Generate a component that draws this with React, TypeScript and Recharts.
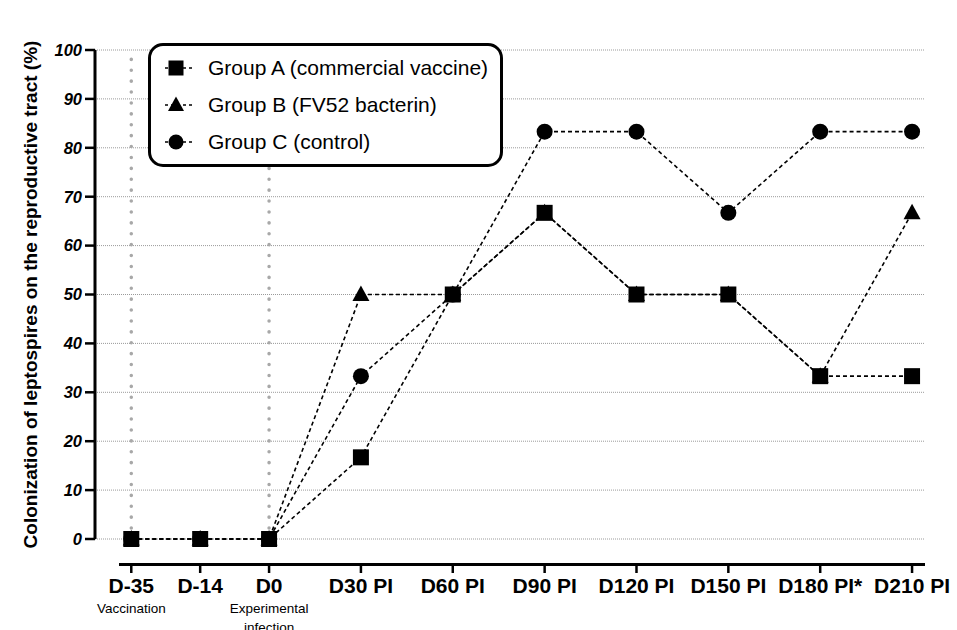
import React from 'react';
import { LineChart, Line, XAxis, YAxis, CartesianGrid, ReferenceLine, Legend } from 'recharts';

const FONT = '"Liberation Sans", Arial, Helvetica, sans-serif';

const timepoints = ['D-35', 'D-14', 'D0', 'D30 PI', 'D60 PI', 'D90 PI', 'D120 PI', 'D150 PI', 'D180 PI*', 'D210 PI'];
const timeSlots = [-1.5, -0.75, 0, 1, 2, 3, 4, 5, 6, 7];
const tickNotes: string[][] = [['Vaccination'], [], ['Experimental', 'infection'], [], [], [], [], [], [], []];
const groupA = [0, 0, 0, 16.7, 50, 66.7, 50, 50, 33.3, 33.3];
const groupB = [0, 0, 0, 50, 50, 66.7, 50, 50, 33.3, 66.7];
const groupC = [0, 0, 0, 33.3, 50, 83.3, 83.3, 66.7, 83.3, 83.3];
const yTicks = [0, 10, 20, 30, 40, 50, 60, 70, 80, 90, 100];
const eventSlots = [-1.5, 0];
const seriesNames = ['Group A (commercial vaccine)', 'Group B (FV52 bacterin)', 'Group C (control)'];
const seriesShapes = ['square', 'triangle', 'circle'];

const data = timeSlots.map((slot, i) => ({
  slot,
  label: timepoints[i],
  a: groupA[i],
  b: groupB[i],
  c: groupC[i],
}));

const Marker = ({ shape, cx, cy, size }: { shape: string; cx: number; cy: number; size: number }) => {
  const h = size / 2;
  if (shape === 'square') return <rect x={cx - h} y={cy - h} width={size} height={size} fill="#000" />;
  if (shape === 'circle') return <circle cx={cx} cy={cy} r={h} fill="#000" />;
  return (
    <polygon
      points={`${cx},${cy - h - 1} ${cx + h + 0.5},${cy + h - 1.5} ${cx - h - 0.5},${cy + h - 1.5}`}
      fill="#000"
    />
  );
};

const makeDot = (shape: string) => (props: any) => {
  const { cx, cy, index } = props;
  if (cx == null || cy == null) return <g key={`${shape}-${index}`} />;
  return (
    <g key={`${shape}-${index}`}>
      <Marker shape={shape} cx={cx} cy={cy} size={16} />
    </g>
  );
};

const XTick = (props: any) => {
  const { x, y, payload } = props;
  const i = timeSlots.indexOf(payload.value);
  return (
    <g>
      <line x1={x} x2={x} y1={y + 25} y2={y + 34} stroke="#000" strokeWidth={2.5} />
      <text x={x} y={y + 54} textAnchor="middle" fontSize={21} fontWeight="bold" fontFamily={FONT} fill="#000">
        {timepoints[i]}
      </text>
      {(tickNotes[i] || []).map((t, k) => (
        <text key={k} x={x} y={y + 74 + k * 19} textAnchor="middle" fontSize={13.5} fontFamily={FONT} fill="#000">
          {t}
        </text>
      ))}
    </g>
  );
};

const YTitle = (props: any) => {
  const vb = props.viewBox || { x: 0, y: 50, width: 95, height: 489 };
  const cx = vb.x + 30;
  const cy = vb.y + vb.height / 2;
  return (
    <text
      x={cx}
      y={cy}
      transform={`rotate(-90 ${cx} ${cy})`}
      textAnchor="middle"
      dominantBaseline="central"
      fontSize={19}
      fontWeight="bold"
      fontFamily={FONT}
      fill="#000"
    >
      Colonization of leptospires on the reproductive tract (%)
    </text>
  );
};

const LegendBox = () => (
  <div
    style={{
      position: 'relative',
      width: 355,
      height: 124,
      boxSizing: 'border-box',
      border: '3px solid #000',
      borderRadius: 15,
      background: '#fff',
      fontFamily: FONT,
    }}
  >
    {seriesNames.map((name, i) => (
      <div
        key={name}
        style={{ position: 'absolute', left: 0, top: 22 + i * 37 - 15, height: 30, width: 345, display: 'flex', alignItems: 'center' }}
      >
        <svg width={50} height={30} style={{ display: 'block' }}>
          <line x1={14} x2={41} y1={15} y2={15} stroke="#000" strokeWidth={1.3} strokeDasharray="3 3" />
          <Marker shape={seriesShapes[i]} cx={25} cy={15} size={15} />
        </svg>
        <span style={{ marginLeft: 7, fontSize: 21, color: '#000', whiteSpace: 'nowrap' }}>{name}</span>
      </div>
    ))}
  </div>
);

export default function App() {
  return (
    <div style={{ position: 'absolute', left: 0, top: 0, width: 957, height: 630, background: '#fff' }}>
      <LineChart width={957} height={630} data={data} margin={{ top: 50, right: 33, left: 0, bottom: 0 }}>
        <CartesianGrid horizontal vertical={false} stroke="#9a9a9a" strokeDasharray="1 1" strokeWidth={1} />
        <XAxis
          dataKey="slot"
          type="number"
          domain={[-1.895, 7.13]}
          ticks={timeSlots}
          interval={0}
          height={91}
          axisLine={false}
          tickLine={false}
          tickSize={0}
          tickMargin={0}
          tick={<XTick />}
        />
        <YAxis
          type="number"
          domain={[0, 100]}
          ticks={yTicks}
          interval={0}
          width={95}
          axisLine={{ stroke: '#000', strokeWidth: 3 }}
          tickLine={{ stroke: '#000', strokeWidth: 2.5 }}
          tickSize={10}
          tickMargin={3}
          tick={{ fill: '#000', fontSize: 16.5, fontWeight: 'bold', fontStyle: 'italic', fontFamily: FONT }}
          label={{ content: <YTitle /> }}
        />
        {eventSlots.map((s) => (
          <ReferenceLine
            key={s}
            x={s}
            stroke="#a8a8a8"
            strokeWidth={3.5}
            strokeDasharray="0.1 10.8"
            strokeLinecap="round"
          />
        ))}
        <Legend
          layout="vertical"
          align="center"
          verticalAlign="middle"
          wrapperStyle={{ left: 148, top: 43, width: 355, height: 124 }}
          content={() => <LegendBox />}
        />
        <Line
          dataKey="c"
          name={seriesNames[2]}
          type="linear"
          stroke="#000"
          strokeWidth={1.6}
          strokeDasharray="4 3"
          dot={makeDot('circle')}
          activeDot={false}
          isAnimationActive={false}
        />
        <Line
          dataKey="b"
          name={seriesNames[1]}
          type="linear"
          stroke="#000"
          strokeWidth={1.6}
          strokeDasharray="4 3"
          dot={makeDot('triangle')}
          activeDot={false}
          isAnimationActive={false}
        />
        <Line
          dataKey="a"
          name={seriesNames[0]}
          type="linear"
          stroke="#000"
          strokeWidth={1.6}
          strokeDasharray="4 3"
          dot={makeDot('square')}
          activeDot={false}
          isAnimationActive={false}
        />
      </LineChart>
      <div style={{ position: 'absolute', left: 119, top: 563, width: 806, height: 3, background: '#000' }} />
    </div>
  );
}
